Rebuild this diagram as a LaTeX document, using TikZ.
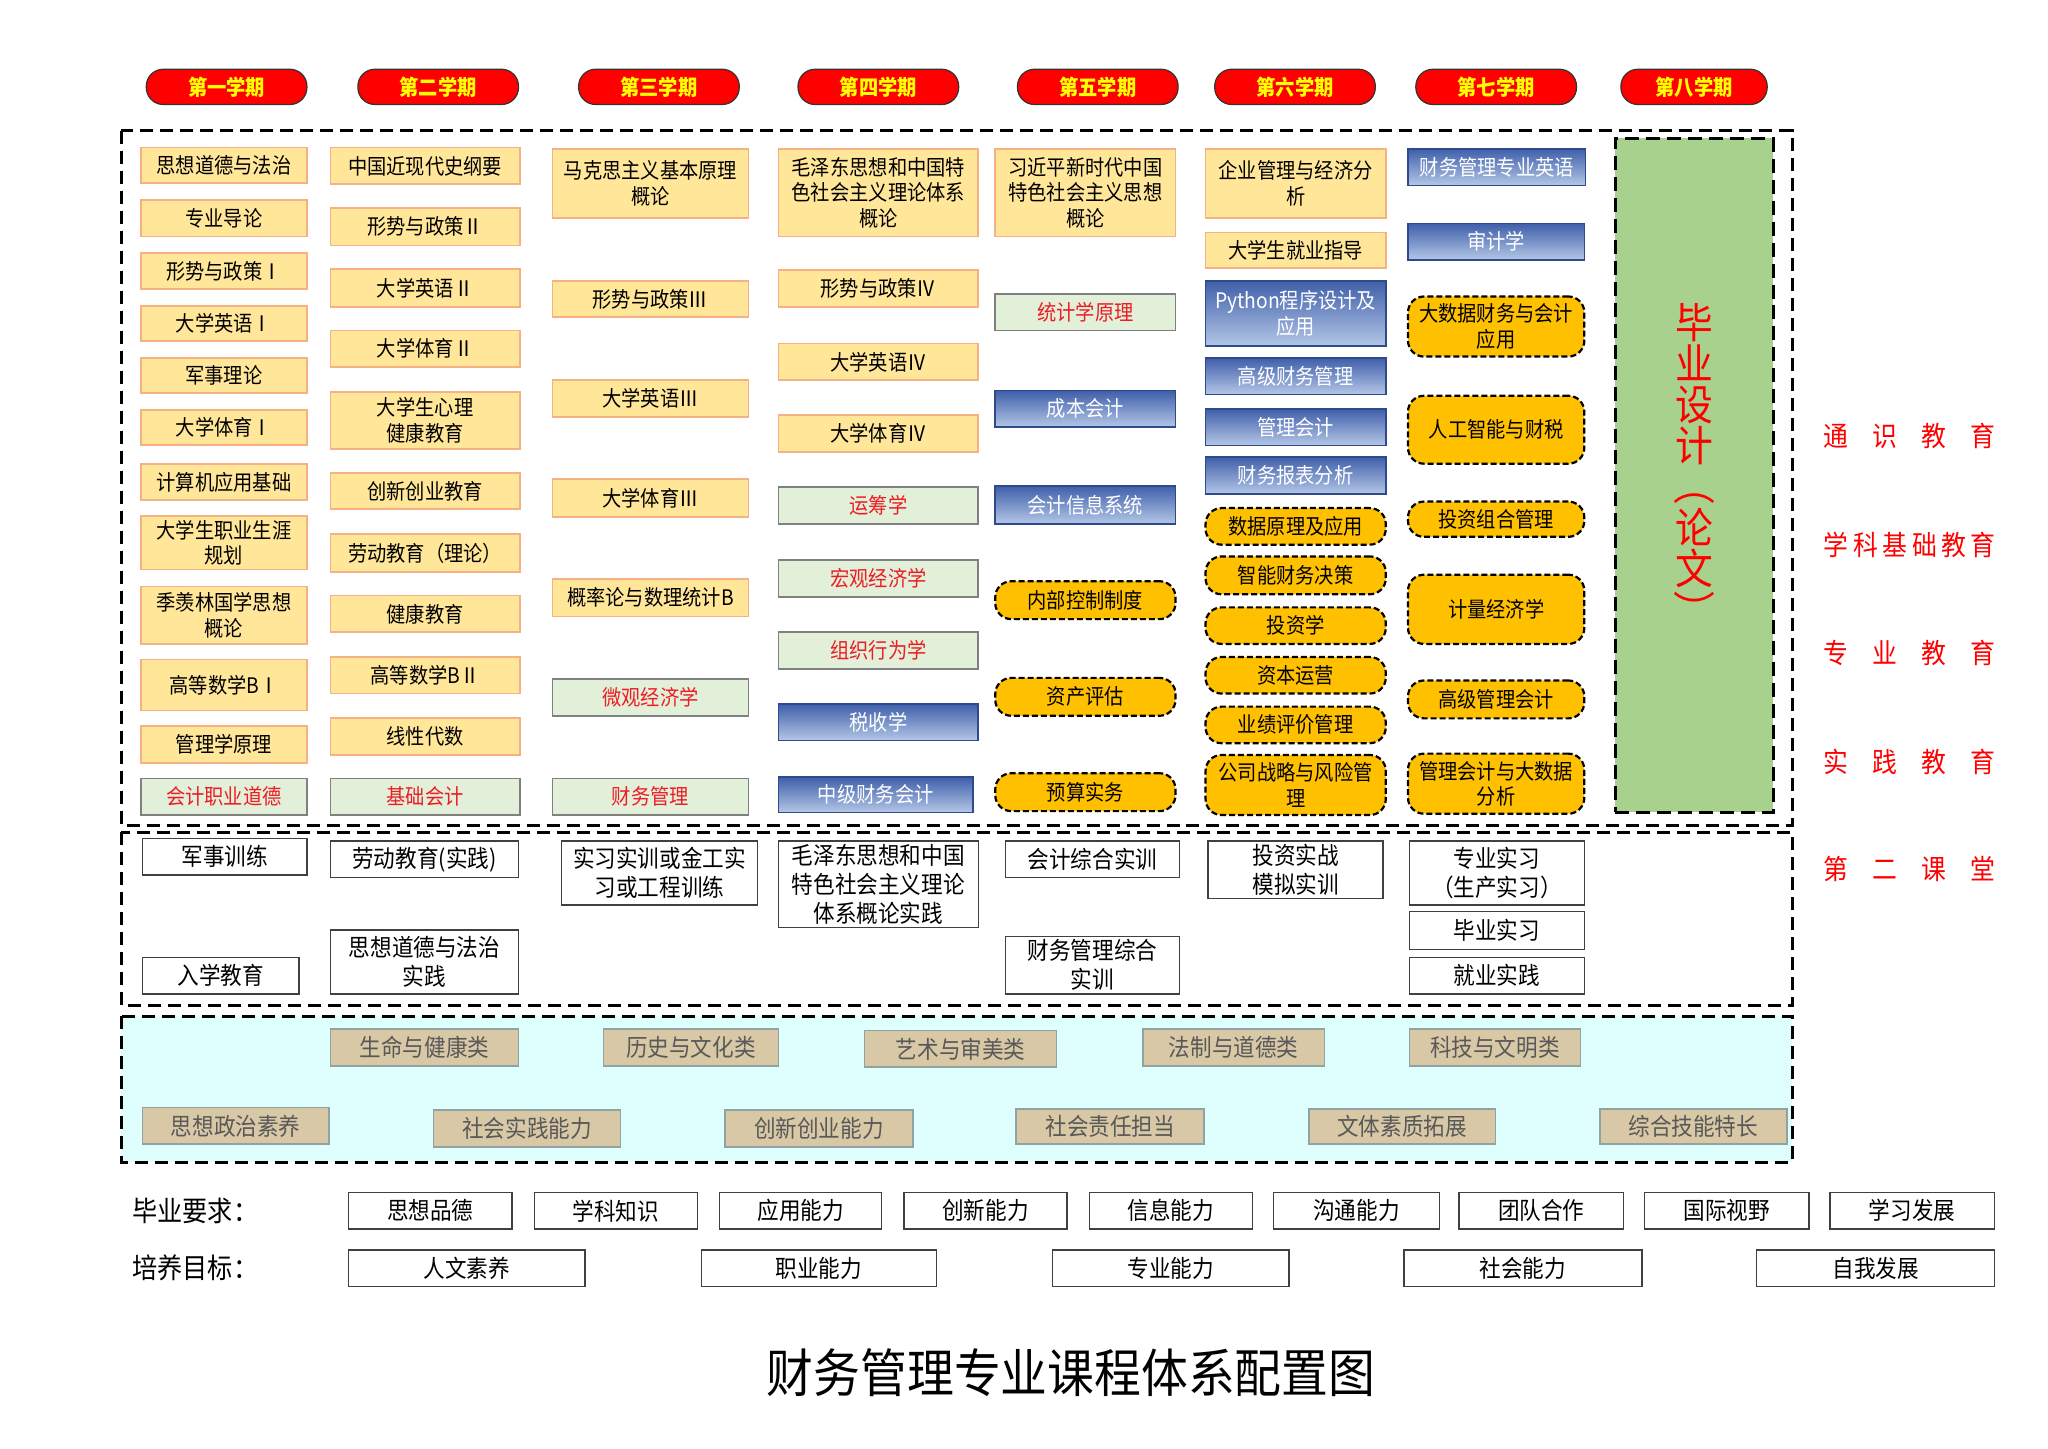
\documentclass[tikz,border=0pt]{standalone}
\usepackage{fontspec}
\setmainfont{Noto Sans CJK SC}[FakeStretch=0.9]
\definecolor{semred}{HTML}{FF0000}
\definecolor{semtxt}{HTML}{FFFF00}
\definecolor{orgfill}{HTML}{FFE699}
\definecolor{orgline}{HTML}{F4B183}
\definecolor{grnfill}{HTML}{E2F0D9}
\definecolor{grnline}{HTML}{808080}
\definecolor{grntxt}{HTML}{EE1C25}
\definecolor{blutop}{HTML}{3F5FAA}
\definecolor{blubot}{HTML}{B4C7E7}
\definecolor{bluline}{HTML}{2E4A8A}
\definecolor{ylwfill}{HTML}{FFC000}
\definecolor{cyanfill}{HTML}{DFFFFF}
\definecolor{tanfill}{HTML}{D8C8A5}
\definecolor{tanline}{HTML}{8FA3A3}
\definecolor{tantxt}{HTML}{595959}
\definecolor{thesis}{HTML}{A9D18E}
\newcommand\fa{\fontsize{10.7}{12.8}\selectfont}
\newcommand\fb{\fontsize{12}{14.5}\selectfont}
\newcommand\bx[7]{\node[#2,minimum width={(#5-#3)*0.6531pt},minimum height={(#6-#4)*0.6531pt}] (#1) at ({(#3+#5)/2},{(#4+#6)/2}) {#7};}
\newcommand\rlab[3]{\node[anchor=west,inner sep=0pt,text=red,font=\fontsize{13.8}{14}\selectfont] (#1) at (1396,#2) {\hbox to 86pt{#3}};}
\newcommand\vparL{\rotatebox[origin=c]{-90}{（}}
\newcommand\vparR{\rotatebox[origin=c]{-90}{）}}
\begin{document}
\begin{tikzpicture}[x=0.6531pt,y=-0.6531pt,
  sbox/.style={inner sep=0pt,align=center,font=\fa},
  sem/.style={sbox,fill=semred,draw=black!80,line width=0.6pt,rounded corners=8.5pt,text=semtxt,font=\fa\bfseries},
  org/.style={sbox,fill=orgfill,draw=orgline,line width=0.9pt},
  grn/.style={sbox,fill=grnfill,draw=grnline,line width=0.9pt,text=grntxt},
  blu/.style={sbox,top color=blutop,bottom color=blubot,draw=bluline,line width=0.8pt,text=white},
  ylw/.style={sbox,fill=ylwfill,draw=black,line width=1.1pt,dash pattern=on 3pt off 1.5pt,rounded corners=8pt},
  wht/.style={sbox,fill=white,draw=black!75,line width=0.7pt,font=\fb},
  tanb/.style={sbox,fill=tanfill,draw=tanline,line width=0.8pt,text=tantxt,font=\fb},
  outer/.style={draw=black,line width=1.5pt,dash pattern=on 6.5pt off 3.5pt}]
\useasboundingbox (0,0) rectangle (1568,1109);
% frames
\draw[outer] (93,100) rectangle (1372,632);
\draw[outer] (93,637) rectangle (1372,770);
\draw[outer,fill=cyanfill] (93,778) rectangle (1372,890);
% semesters
\bx{s1}{sem}{112}{53}{235}{80}{第一学期}
\bx{s2}{sem}{274}{53}{397}{80}{第二学期}
\bx{s3}{sem}{443}{53}{566}{80}{第三学期}
\bx{s4}{sem}{611}{53}{734}{80}{第四学期}
\bx{s5}{sem}{779}{53}{902}{80}{第五学期}
\bx{s6}{sem}{930}{53}{1053}{80}{第六学期}
\bx{s7}{sem}{1084}{53}{1207}{80}{第七学期}
\bx{s8}{sem}{1241}{53}{1353}{80}{第八学期}
% column 1
\bx{c1a}{org}{108}{113}{235}{140}{思想道德与法治}
\bx{c1b}{org}{108}{153}{235}{181}{专业导论}
\bx{c1c}{org}{108}{194}{235}{221}{形势与政策Ⅰ}
\bx{c1d}{org}{108}{234}{235}{261}{大学英语Ⅰ}
\bx{c1e}{org}{108}{274}{235}{301}{军事理论}
\bx{c1f}{org}{108}{314}{235}{341}{大学体育Ⅰ}
\bx{c1g}{org}{108}{355}{235}{383}{计算机应用基础}
\bx{c1h}{org}{108}{395}{235}{436}{大学生职业生涯\\规划}
\bx{c1i}{org}{108}{449}{235}{493}{季羡林国学思想\\概论}
\bx{c1j}{org}{108}{505}{235}{544}{高等数学BⅠ}
\bx{c1k}{org}{108}{556}{235}{584}{管理学原理}
\bx{c1l}{grn}{108}{596}{235}{624}{会计职业道德}
% column 2
\bx{c2a}{org}{253}{113}{398}{141}{中国近现代史纲要}
\bx{c2b}{org}{253}{159}{398}{188}{形势与政策Ⅱ}
\bx{c2c}{org}{253}{206}{398}{235}{大学英语Ⅱ}
\bx{c2d}{org}{253}{253}{398}{281}{大学体育Ⅱ}
\bx{c2e}{org}{253}{300}{398}{344}{大学生心理\\健康教育}
\bx{c2f}{org}{253}{362}{398}{390}{创新创业教育}
\bx{c2g}{org}{253}{409}{398}{438}{劳动教育（理论）}
\bx{c2h}{org}{253}{456}{398}{484}{健康教育}
\bx{c2i}{org}{253}{503}{398}{531}{高等数学BⅡ}
\bx{c2j}{org}{253}{550}{398}{578}{线性代数}
\bx{c2k}{grn}{253}{596}{398}{624}{基础会计}
% column 3
\bx{c3a}{org}{423}{114}{573}{167}{马克思主义基本原理\\概论}
\bx{c3b}{org}{423}{215}{573}{243}{形势与政策Ⅲ}
\bx{c3c}{org}{423}{291}{573}{319}{大学英语Ⅲ}
\bx{c3d}{org}{423}{367}{573}{396}{大学体育Ⅲ}
\bx{c3e}{org}{423}{443}{573}{472}{概率论与数理统计B}
\bx{c3f}{grn}{423}{520}{573}{548}{微观经济学}
\bx{c3g}{grn}{423}{596}{573}{624}{财务管理}
% column 4
\bx{c4a}{org}{596}{114}{749}{181}{毛泽东思想和中国特\\色社会主义理论体系\\概论}
\bx{c4b}{org}{596}{207}{749}{235}{形势与政策Ⅳ}
\bx{c4c}{org}{596}{263}{749}{291}{大学英语Ⅳ}
\bx{c4d}{org}{596}{318}{749}{346}{大学体育Ⅳ}
\bx{c4e}{grn}{596}{373}{749}{401}{运筹学}
\bx{c4f}{grn}{596}{429}{749}{457}{宏观经济学}
\bx{c4g}{grn}{596}{484}{749}{512}{组织行为学}
\bx{c4h}{blu}{596}{539}{749}{567}{税收学}
\bx{c4i}{blu}{596}{595}{745}{622}{中级财务会计}
% column 5
\bx{c5a}{org}{762}{114}{900}{181}{习近平新时代中国\\特色社会主义思想\\概论}
\bx{c5b}{grn}{762}{225}{900}{253}{统计学原理}
\bx{c5c}{blu}{762}{299}{900}{327}{成本会计}
\bx{c5d}{blu}{762}{372}{900}{401}{会计信息系统}
\bx{c5e}{ylw}{762}{445}{900}{474}{内部控制制度}
\bx{c5f}{ylw}{762}{519}{900}{548}{资产评估}
\bx{c5g}{ylw}{762}{592}{900}{621}{预算实务}
% column 6
\bx{c6a}{org}{923}{114}{1061}{167}{企业管理与经济分\\析}
\bx{c6b}{org}{923}{178}{1061}{205}{大学生就业指导}
\bx{c6c}{blu}{923}{215}{1061}{265}{Python程序设计及\\应用}
\bx{c6d}{blu}{923}{274}{1061}{302}{高级财务管理}
\bx{c6e}{blu}{923}{313}{1061}{341}{管理会计}
\bx{c6f}{blu}{923}{350}{1061}{378}{财务报表分析}
\bx{c6g}{ylw}{923}{389}{1061}{417}{数据原理及应用}
\bx{c6h}{ylw}{923}{426}{1061}{455}{智能财务决策}
\bx{c6i}{ylw}{923}{465}{1061}{493}{投资学}
\bx{c6j}{ylw}{923}{503}{1061}{531}{资本运营}
\bx{c6k}{ylw}{923}{541}{1061}{569}{业绩评价管理}
\bx{c6l}{ylw}{923}{578}{1061}{624}{公司战略与风险管\\理}
% column 7
\bx{c7a}{blu}{1078}{114}{1214}{142}{财务管理专业英语}
\bx{c7b}{blu}{1078}{171}{1213}{199}{审计学}
\bx{c7c}{ylw}{1078}{227}{1213}{273}{大数据财务与会计\\应用}
\bx{c7d}{ylw}{1078}{303}{1213}{355}{人工智能与财税}
\bx{c7e}{ylw}{1078}{384}{1213}{411}{投资组合管理}
\bx{c7f}{ylw}{1078}{440}{1213}{493}{计量经济学}
\bx{c7g}{ylw}{1078}{521}{1213}{550}{高级管理会计}
\bx{c7h}{ylw}{1078}{577}{1213}{623}{管理会计与大数据\\分析}
% column 8 thesis
\node[draw=black,line width=1.5pt,dash pattern=on 7pt off 3.5pt,fill=thesis,minimum width={121*0.6531pt},minimum height={516*0.6531pt},inner sep=0pt] (thes) at (1297,364) {};
\node[align=center,inner sep=0pt,text=red,font=\fontsize{21}{20.5}\selectfont] (thestxt) at (1297,357) {毕\\业\\设\\计\\\vparL\\论\\文\\\vparR};
% right labels
\rlab{r1}{334}{通\hfil 识\hfil 教\hfil 育}
\rlab{r2}{417}{学\hfil 科\hfil 基\hfil 础\hfil 教\hfil 育}
\rlab{r3}{500}{专\hfil 业\hfil 教\hfil 育}
\rlab{r4}{583}{实\hfil 践\hfil 教\hfil 育}
\rlab{r5}{665}{第\hfil 二\hfil 课\hfil 堂}
% practice
\bx{p1}{wht}{109}{642}{235}{670}{军事训练}
\bx{p2}{wht}{109}{733}{229}{761}{入学教育}
\bx{p3}{wht}{253}{644}{397}{672}{劳动教育(实践)}
\bx{p4}{wht}{253}{712}{397}{761}{思想道德与法治\\实践}
\bx{p5}{wht}{430}{644}{580}{693}{实习实训或金工实\\习或工程训练}
\bx{p6}{wht}{596}{644}{749}{710}{毛泽东思想和中国\\特色社会主义理论\\体系概论实践}
\bx{p7}{wht}{770}{644}{903}{672}{会计综合实训}
\bx{p8}{wht}{770}{717}{903}{761}{财务管理综合\\实训}
\bx{p9}{wht}{925}{644}{1059}{688}{投资实战\\模拟实训}
\bx{p10}{wht}{1079}{644}{1213}{693}{专业实习\\（生产实习）}
\bx{p11}{wht}{1079}{698}{1213}{727}{毕业实习}
\bx{p12}{wht}{1079}{733}{1213}{761}{就业实践}
% second classroom
\bx{t1}{tanb}{253}{788}{397}{816}{生命与健康类}
\bx{t2}{tanb}{462}{788}{596}{816}{历史与文化类}
\bx{t3}{tanb}{662}{789}{809}{817}{艺术与审美类}
\bx{t4}{tanb}{875}{788}{1014}{816}{法制与道德类}
\bx{t5}{tanb}{1079}{788}{1210}{816}{科技与文明类}
\bx{t6}{tanb}{109}{848}{252}{876}{思想政治素养}
\bx{t7}{tanb}{332}{850}{475}{878}{社会实践能力}
\bx{t8}{tanb}{555}{850}{699}{878}{创新创业能力}
\bx{t9}{tanb}{778}{849}{922}{876}{社会责任担当}
\bx{t10}{tanb}{1002}{849}{1145}{876}{文体素质拓展}
\bx{t11}{tanb}{1225}{849}{1368}{876}{综合技能特长}
% requirements
\node[anchor=west,inner sep=0pt,font=\fontsize{14}{16}\selectfont] (req) at (101,927) {毕业要求：};
\node[anchor=west,inner sep=0pt,font=\fontsize{14}{16}\selectfont] (goal) at (101,971) {培养目标：};
\bx{q1}{wht}{267}{913}{392}{941}{思想品德}
\bx{q2}{wht}{409}{913}{534}{941}{学科知识}
\bx{q3}{wht}{551}{913}{675}{941}{应用能力}
\bx{q4}{wht}{692}{913}{817}{941}{创新能力}
\bx{q5}{wht}{834}{913}{959}{941}{信息能力}
\bx{q6}{wht}{975}{913}{1102}{941}{沟通能力}
\bx{q7}{wht}{1117}{913}{1243}{941}{团队合作}
\bx{q8}{wht}{1259}{913}{1385}{941}{国际视野}
\bx{q9}{wht}{1401}{913}{1527}{941}{学习发展}
\bx{g1}{wht}{267}{957}{448}{985}{人文素养}
\bx{g2}{wht}{537}{957}{717}{985}{职业能力}
\bx{g3}{wht}{806}{957}{987}{985}{专业能力}
\bx{g4}{wht}{1075}{957}{1257}{985}{社会能力}
\bx{g5}{wht}{1345}{957}{1527}{985}{自我发展}
% title
\node[inner sep=0pt,font=\fontsize{26}{28}\selectfont] (title) at (820,1051) {财务管理专业课程体系配置图};
\end{tikzpicture}
\end{document}
